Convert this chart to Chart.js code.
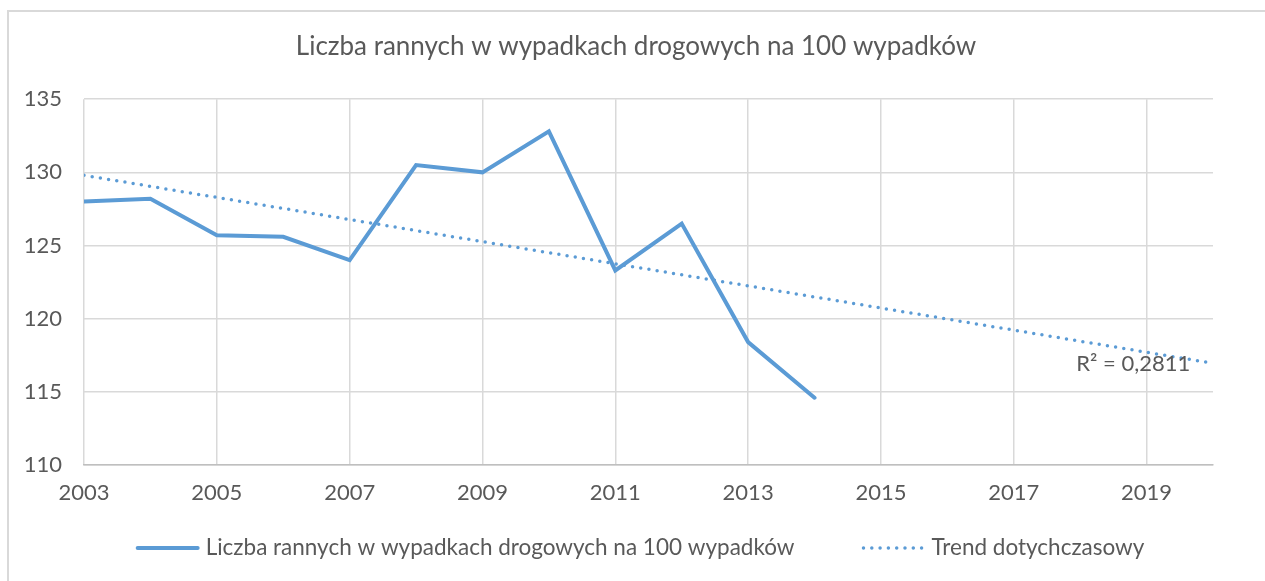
<!DOCTYPE html>
<html lang="pl">
<head>
<meta charset="utf-8">
<title>Liczba rannych w wypadkach drogowych na 100 wypadków</title>
<script src="https://cdn.jsdelivr.net/npm/chart.js@4.4.1/dist/chart.umd.min.js"></script>
<style>
  html, body { margin: 0; padding: 0; background: #fff; overflow: hidden; }
  #wrap { position: relative; width: 1265px; height: 581px; }
  #frame { position: absolute; left: 7px; top: 10px; width: 1300px; height: 620px;
           border: 2px solid #d9d9d9; box-sizing: border-box; pointer-events: none; }
  canvas { position: absolute; left: 0; top: 0; }
</style>
</head>
<body>
<div id="wrap">
  <div id="frame"></div>
  <canvas id="myChart" width="1265" height="581"></canvas>
</div>
<script>
// dane: ranni na 100 wypadków, lata 2003-2014
var years = [2003, 2004, 2005, 2006, 2007, 2008, 2009, 2010, 2011, 2012, 2013, 2014];
var injured = [128.0, 128.2, 125.7, 125.6, 124.0, 130.5, 130.0, 132.8, 123.3, 126.5, 118.4, 114.6];

// linia trendu (liniowa) - poczatek i koniec
var trendYears = [2003, 2020];
var trendValues = [129.8, 116.95];

var xTicks = [2003, 2005, 2007, 2009, 2011, 2013, 2015, 2017, 2019];
var yTicks = [110, 115, 120, 125, 130, 135];

var seriesLabel = 'Liczba rannych w wypadkach drogowych na 100 wypadków';
var trendLabel = 'Trend dotychczasowy';
var rSquaredText = 'R² = 0,2811';

var blue = '#5b9bd5';
var textColor = '#595959';
var fontFamily = 'Lato, "Open Sans", sans-serif';

// napis R^2 przy linii trendu
var rSquaredPlugin = {
    id: 'rSquared',
    afterDatasetsDraw: function (chart) {
        var ctx = chart.ctx;
        var x = chart.scales.x.getPixelForValue(2018.8);
        var y = chart.scales.y.getPixelForValue(116.9);
        ctx.save();
        ctx.font = '22px ' + fontFamily;
        ctx.fillStyle = textColor;
        ctx.textAlign = 'center';
        ctx.textBaseline = 'middle';
        ctx.fillText(rSquaredText, x, y);
        ctx.restore();
    }
};

// legenda pod wykresem (linia + opis), rysowana recznie
var legendPlugin = {
    id: 'bottomLegend',
    afterDraw: function (chart) {
        var ctx = chart.ctx;
        var sampleW = 62, textGap = 7, itemGap = 68;
        var y = 548;
        ctx.save();
        ctx.font = '22.5px ' + fontFamily;
        var items = chart.data.datasets.map(function (ds) {
            return { ds: ds, w: sampleW + textGap + ctx.measureText(ds.label).width };
        });
        var total = items.reduce(function (s, it) { return s + it.w; }, 0) + itemGap * (items.length - 1);
        var x = chart.width / 2 + 8 - total / 2;
        items.forEach(function (it) {
            var ds = it.ds;
            ctx.beginPath();
            ctx.strokeStyle = ds.borderColor;
            ctx.lineWidth = ds.borderWidth;
            ctx.lineCap = ds.borderCapStyle || 'round';
            ctx.setLineDash(ds.borderDash || []);
            ctx.moveTo(x + 1, y);
            ctx.lineTo(x + sampleW - 1, y);
            ctx.stroke();
            ctx.setLineDash([]);
            ctx.fillStyle = textColor;
            ctx.textAlign = 'left';
            ctx.textBaseline = 'middle';
            ctx.fillText(ds.label, x + sampleW + textGap, y);
            x += it.w + itemGap;
        });
        ctx.restore();
    }
};

var ctx = document.getElementById('myChart').getContext('2d');
var myChart = new Chart(ctx, {
    type: 'line',
    data: {
        datasets: [{
            label: seriesLabel,
            data: years.map(function (yr, i) { return { x: yr, y: injured[i] }; }),
            borderColor: blue,
            borderWidth: 4,
            borderCapStyle: 'round',
            borderJoinStyle: 'miter',
            pointRadius: 0,
            tension: 0,
            fill: false
        }, {
            label: trendLabel,
            data: trendYears.map(function (yr, i) { return { x: yr, y: trendValues[i] }; }),
            borderColor: blue,
            borderWidth: 3.5,
            borderDash: [0, 8.3],
            borderCapStyle: 'round',
            pointRadius: 0,
            fill: false
        }]
    },
    options: {
        responsive: false,
        animation: false,
        events: [],
        // obszar wykresu: 84..1213 x 99..465
        layout: { padding: { left: 7, right: 0, top: 0, bottom: 76 } },
        plugins: {
            legend: { display: false },
            tooltip: { enabled: false },
            title: {
                display: true,
                text: seriesLabel,
                color: textColor,
                font: { family: fontFamily, size: 26, weight: 'normal' },
                padding: { top: 31, bottom: 37 }
            }
        },
        scales: {
            x: {
                type: 'linear',
                min: 2003,
                max: 2020,
                afterBuildTicks: function (scale) {
                    scale.ticks = xTicks.map(function (v) { return { value: v }; });
                },
                afterFit: function (scale) { scale.height = 40; },
                grid: { color: '#d9d9d9', lineWidth: 1.5, drawTicks: false },
                border: { display: true, color: '#bfbfbf', width: 1.5 },
                ticks: {
                    color: textColor,
                    font: { family: fontFamily, size: 22 },
                    padding: 15,
                    maxRotation: 0,
                    autoSkip: false,
                    callback: function (v) { return String(v); }
                }
            },
            y: {
                min: 110,
                max: 135,
                afterBuildTicks: function (scale) {
                    scale.ticks = yTicks.map(function (v) { return { value: v }; });
                },
                afterFit: function (scale) { scale.width = 77; },
                grid: { color: '#d9d9d9', lineWidth: 1.5, drawTicks: false },
                border: { display: false },
                ticks: {
                    color: textColor,
                    font: { family: fontFamily, size: 22 },
                    padding: 22,
                    callback: function (v) { return String(v); }
                }
            },
            // pusta os po prawej - tylko margines
            yRight: {
                position: 'right',
                min: 110,
                max: 135,
                afterFit: function (scale) { scale.width = 52; },
                grid: { display: false, drawTicks: false },
                border: { display: false },
                ticks: { display: false }
            }
        }
    },
    plugins: [rSquaredPlugin, legendPlugin]
});
</script>
</body>
</html>
